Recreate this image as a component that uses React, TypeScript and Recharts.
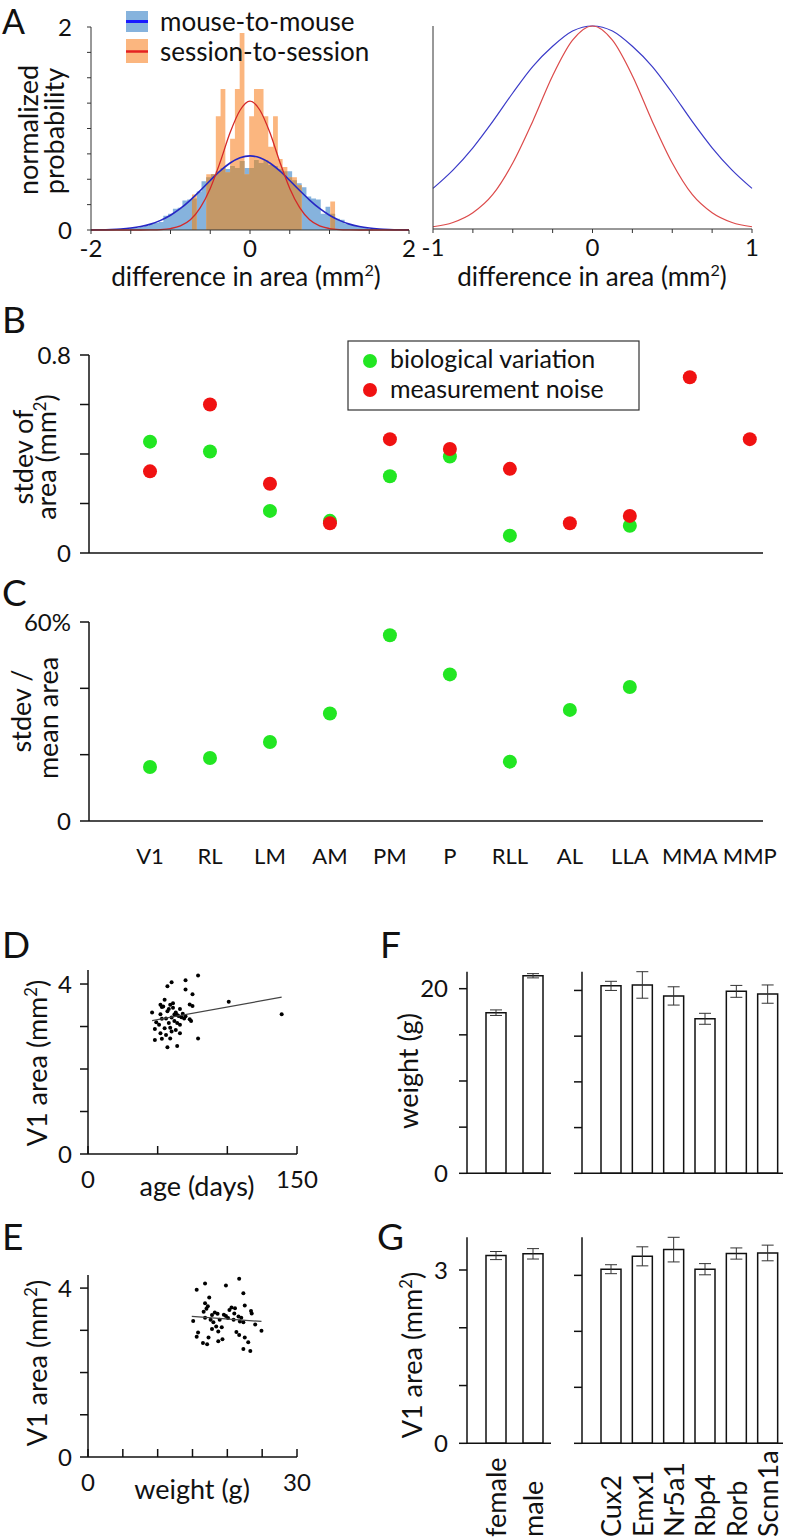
import React from 'react'
import {
  ComposedChart, LineChart, ScatterChart, BarChart,
  Area, Line, Scatter, Bar, ErrorBar, XAxis, YAxis,
} from 'recharts'

const W = 800
const H = 1539
const FONT = 'Lato, "Open Sans", sans-serif'
const INK = '#111'

// ---- A: difference in area histograms + gaussian fits ----
const histBins = [
  -1.54, -1.48, -1.42, -1.36, -1.3, -1.24, -1.18, -1.12, -1.06, -1.0, -0.94, -0.88, -0.82,
  -0.76, -0.7, -0.64, -0.58, -0.52, -0.46, -0.4, -0.34, -0.28, -0.22, -0.16, -0.1, -0.04,
  0.02, 0.08, 0.14, 0.2, 0.26, 0.32, 0.38, 0.44, 0.5, 0.56, 0.62, 0.68, 0.74,
  0.8, 0.86, 0.92, 0.98, 1.04, 1.1, 1.16, 1.22, 1.28, 1.34, 1.4, 1.46, 1.52, 1.58,
]
const mouseHist = [
  0, 0.02, 0.02, 0.03, 0.04, 0.06, 0.07, 0.08, 0.14, 0.16, 0.21, 0.22, 0.29,
  0.3, 0.31, 0.38, 0.48, 0.52, 0.55, 0.58, 0.61, 0.6, 0.63, 0.61, 0.68, 0.61,
  0.61, 0.69, 0.66, 0.69, 0.64, 0.63, 0.6, 0.58, 0.58, 0.49, 0.46, 0.42, 0.33,
  0.31, 0.3, 0.16, 0.23, 0.16, 0.11, 0.1, 0.06, 0.05, 0.04, 0.03, 0.02, 0.01, 0,
]
const sessionHist = [
  null, null, null, null, null, null, null, null, null, null, null, null, null,
  0, 0.35, 0, 0, 0.55, 0.55, 1.12, 1.39, 0.57, 0.9, 1.39, 1.94, 0.55,
  1.12, 1.39, 1.39, 1.12, 0.82, 1.12, 0.7, 0.62, 0.52, 0.52, 0.44, 0, 0,
  0, 0, 0, 0, 0.28, 0, null, null, null, null, null, null, null, null,
]
const fitX = [
  -2, -1.875, -1.75, -1.625, -1.5, -1.375, -1.25, -1.125, -1, -0.875, -0.75, -0.625, -0.5, -0.375, -0.25, -0.125,
  0, 0.125, 0.25, 0.375, 0.5, 0.625, 0.75, 0.875, 1, 1.125, 1.25, 1.375, 1.5, 1.625, 1.75, 1.875, 2,
]
const mouseFit = [
  0.001, 0.002, 0.005, 0.01, 0.019, 0.034, 0.058, 0.095, 0.145, 0.212, 0.295, 0.389, 0.488, 0.582, 0.66, 0.712,
  0.73, 0.712, 0.66, 0.582, 0.488, 0.389, 0.295, 0.212, 0.145, 0.095, 0.058, 0.034, 0.019, 0.01, 0.005, 0.002, 0.001,
]
const sessionFit = [
  0, 0, 0, 0, 0, 0, 0.001, 0.004, 0.014, 0.04, 0.1, 0.22, 0.41, 0.67, 0.96, 1.18,
  1.27, 1.18, 0.96, 0.67, 0.41, 0.22, 0.1, 0.04, 0.014, 0.004, 0.001, 0, 0, 0, 0, 0, 0,
]
const normX = [-1, -0.875, -0.75, -0.625, -0.5, -0.375, -0.25, -0.125, 0, 0.125, 0.25, 0.375, 0.5, 0.625, 0.75, 0.875, 1]
const mouseNorm = [0.2, 0.29, 0.4, 0.53, 0.67, 0.8, 0.9, 0.975, 1, 0.975, 0.9, 0.8, 0.67, 0.53, 0.4, 0.29, 0.2]
const sessionNorm = [0.011, 0.032, 0.08, 0.17, 0.325, 0.53, 0.755, 0.93, 1, 0.93, 0.755, 0.53, 0.325, 0.17, 0.08, 0.032, 0.011]

// ---- B / C: per-area variation ----
const areas = ['V1', 'RL', 'LM', 'AM', 'PM', 'P', 'RLL', 'AL', 'LLA', 'MMA', 'MMP']
const bioStdev = [0.45, 0.41, 0.17, 0.13, 0.31, 0.39, 0.07, null, 0.11, null, null]
const noiseStdev = [0.33, 0.6, 0.28, 0.12, 0.46, 0.42, 0.34, 0.12, 0.15, 0.71, 0.46]
const relStdev = [16.3, 19.0, 23.8, 32.4, 56.0, 44.2, 17.9, 33.5, 40.4, null, null]

// ---- D: V1 area vs age ----
const ageDays = [
  79, 70, 60, 57, 70, 75, 55, 101, 52, 53, 59, 61, 73, 75, 46, 52, 58, 63, 66, 139,
  64, 65, 56, 60, 69, 73, 74, 53, 62, 64, 58, 49, 66, 48, 55, 59, 63, 52, 56, 66,
  79, 48, 53, 59, 57, 64, 61, 54, 67, 70, 57, 62, 68, 51, 60,
]
const ageArea = [
  4.2, 4.09, 4.04, 3.95, 3.87, 3.76, 3.63, 3.58, 3.51, 3.46, 3.51, 3.55, 3.52, 3.48, 3.33, 3.29, 3.41, 3.33, 3.41, 3.29,
  3.27, 3.25, 3.19, 3.21, 3.19, 3.17, 3.13, 3.18, 3.13, 3.08, 3.08, 3.1, 3.04, 2.94, 2.96, 2.97, 2.92, 2.84, 2.8, 2.84,
  2.72, 2.68, 2.71, 2.72, 2.51, 2.54, 3.44, 3.47, 3.22, 3.24, 3.36, 3.28, 3.3, 3.04, 2.88,
]
const ageFitX = [46, 139]
const ageFitY = [3.14, 3.69]

// ---- E: V1 area vs weight ----
const weightG = [
  21.7, 16.8, 19.8, 15.6, 22.3, 17.4, 16.8, 22.5, 17.0, 16.6, 20.6, 21.1, 20.3, 23.4, 23.5, 18.2, 18.6, 17.8, 19.8, 21.6,
  15.1, 16.8, 17.6, 18.0, 18.9, 20.1, 20.9, 21.8, 22.3, 24.0, 24.9, 18.4, 19.2, 17.8, 18.7, 21.3, 21.7, 15.8, 15.6, 17.3,
  19.3, 22.5, 16.5, 17.1, 18.7, 23.0, 22.3, 23.3, 19.5, 21.0, 22.0, 17.2,
]
const weightArea = [
  4.22, 4.11, 4.06, 3.96, 3.88, 3.78, 3.64, 3.59, 3.51, 3.44, 3.54, 3.52, 3.48, 3.46, 3.4, 3.42, 3.39, 3.36, 3.34, 3.33,
  3.22, 3.3, 3.25, 3.19, 3.25, 3.29, 3.25, 3.21, 3.19, 3.14, 2.99, 3.09, 3.07, 3.03, 2.97, 2.96, 2.89, 2.95, 2.85, 2.83,
  2.79, 2.83, 2.7, 2.67, 2.74, 2.72, 2.56, 2.51, 3.37, 3.4, 3.3, 3.57,
]
const weightFitX = [14.9, 24.9]
const weightFitY = [3.33, 3.21]

// ---- F / G: weight and V1 area by sex and Cre line ----
const sexes = ['female', 'male']
const sexWeight = [17.4, 21.4]
const sexWeightErr = [0.3, 0.23]
const sexArea = [3.25, 3.28]
const sexAreaErr = [0.07, 0.09]
const creLines = ['Cux2', 'Emx1', 'Nr5a1', 'Rbp4', 'Rorb', 'Scnn1a']
const creWeight = [20.5, 20.6, 19.4, 16.9, 19.9, 19.6]
const creWeightErr = [0.5, 1.45, 1.0, 0.6, 0.65, 1.0]
const creArea = [3.11, 3.34, 3.46, 3.11, 3.39, 3.4]
const creAreaErr = [0.08, 0.17, 0.22, 0.1, 0.1, 0.14]

// ---------------------------------------------------------------
const aTable = (() => {
  const m = new Map<number, any>()
  const row = (x: number) => {
    const k = Math.round(x * 1000)
    if (!m.has(k)) m.set(k, { x })
    return m.get(k)
  }
  histBins.forEach((x, i) => {
    const r = row(x)
    const s = sessionHist[i]
    r.mouse = mouseHist[i]
    r.session = s
    r.both = s == null ? null : Math.min(s, mouseHist[i])
  })
  fitX.forEach((x, i) => {
    const r = row(x)
    r.mouseFit = mouseFit[i]
    r.sessionFit = sessionFit[i]
  })
  return [...m.values()].sort((a, b) => a.x - b.x)
})()
const normTable = normX.map((x, i) => ({ x, mouse: mouseNorm[i], session: sessionNorm[i] }))

const pts = (xs: number[], ys: (number | null)[]) =>
  xs.map((x, i) => ({ x, y: ys[i] })).filter((p) => p.y != null)
const idx = areas.map((_, i) => i)
const bioPts = pts(idx, bioStdev)
const noisePts = pts(idx, noiseStdev)
const relPts = pts(idx, relStdev)
const agePts = pts(ageDays, ageArea)
const ageFit = pts(ageFitX, ageFitY)
const weightPts = pts(weightG, weightArea)
const weightFit = pts(weightFitX, weightFitY)
const bars = (names: string[], v: number[], err: number[]) => names.map((name, i) => ({ name, v: v[i], err: err[i] }))

// plot rectangle in page pixels -> chart margin
const frame = (l: number, t: number, r: number, b: number, yW: number, xH: number) => ({
  top: t, left: l - yW, right: W - r, bottom: H - b - xH,
})
const only = (keep: Record<string, string>) => (v: number) => keep[String(v)] ?? ''

const tickFont = { fontSize: 24, fill: INK, fontFamily: FONT }
const catFont = { fontSize: 22, fill: INK, fontFamily: FONT }
const axA = { stroke: '#333', strokeWidth: 1 }
const ax = { stroke: INK, strokeWidth: 1.5 }
const layer: React.CSSProperties = { position: 'absolute', left: 0, top: 0 }

const dot = (fill: string, r: number) => (p: any) => <circle cx={p.cx} cy={p.cy} r={r} fill={fill} />
const noShape = () => <g />

// x ticks pointing up into the plot (panels D, E)
const upTick = (labels: Record<string, string>, margin: number) => (p: any) => (
  <g>
    <line x1={p.x} x2={p.x} y1={p.y - margin} y2={p.y - margin - 8} stroke={INK} strokeWidth={1.5} />
    <text x={p.x} y={p.y} dy="0.71em" textAnchor="middle" fontSize={24} fontFamily={FONT} fill={INK}>
      {labels[String(p.payload.value)] ?? ''}
    </text>
  </g>
)
// rotated category labels (panel G)
const rotTick = (p: any) => (
  <text x={p.x} y={1537} transform={`rotate(-90 ${p.x} 1537)`} dominantBaseline="central"
    fontSize={27} fontFamily={FONT} fill={INK}>
    {p.payload.value}
  </text>
)

const Sup2 = ({ size }: { size: number }) => (
  <>
    <tspan fontSize={size * 0.62} dy={-size * 0.38}>2</tspan>
    <tspan dy={size * 0.38}>)</tspan>
  </>
)

function T({ x, y, size = 27, anchor = 'middle', rot = false, children }: any) {
  return (
    <text x={x} y={y} fontSize={size} textAnchor={anchor} fontFamily={FONT} fill={INK}
      transform={rot ? `rotate(-90 ${x} ${y})` : undefined}>
      {children}
    </text>
  )
}

function BarPanel({ data, box, dom, ticks, labels, rotate, pad }: any) {
  return (
    <div style={layer}>
      <BarChart width={W} height={H} data={data} margin={frame(box[0], box[1], box[2], box[3], 50, 10)}>
        <XAxis dataKey="name" height={10} padding={{ left: pad, right: 0 }} axisLine={ax} tickLine={false}
          tickSize={0} interval={0} tick={rotate ? rotTick : false} />
        <YAxis type="number" domain={dom} ticks={ticks} interval={0} width={50} tickSize={8} tickMargin={11}
          axisLine={ax} tickLine={ax} tick={tickFont} tickFormatter={only(labels)} />
        <Bar dataKey="v" barSize={20} fill="#fff" stroke={INK} strokeWidth={1.5} isAnimationActive={false}>
          <ErrorBar dataKey="err" width={6} stroke="#333" strokeWidth={1} direction="y" />
        </Bar>
      </BarChart>
    </div>
  )
}

export default function App() {
  return (
    <div style={{ position: 'absolute', left: 0, top: 0, width: W, height: H, background: '#fff', overflow: 'hidden' }}>
      {/* A left: histograms */}
      <div style={layer}>
        <ComposedChart width={W} height={H} data={aTable} margin={frame(91, 27, 409, 230, 40, 40)}>
          <XAxis type="number" dataKey="x" domain={[-2, 2]} allowDataOverflow ticks={[-2, -1.5, -1, -0.5, 0, 0.5, 1, 1.5, 2]}
            interval={0} height={40} tickSize={4} tickMargin={6} axisLine={axA} tickLine={axA} tick={tickFont}
            tickFormatter={only({ '-2': '-2', '0': '0', '2': '2' })} />
          <YAxis type="number" domain={[0, 2]} ticks={[0, 0.25, 0.5, 0.75, 1, 1.25, 1.5, 1.75, 2]} interval={0} width={40}
            tickSize={4} tickMargin={15} axisLine={axA} tickLine={axA} tick={tickFont} tickFormatter={only({ '0': '0', '2': '2' })} />
          <Area type="step" dataKey="mouse" stroke="none" fill="#86b3dd" fillOpacity={1} connectNulls isAnimationActive={false} />
          <Area type="step" dataKey="session" stroke="none" fill="#fbb67f" fillOpacity={1} connectNulls isAnimationActive={false} />
          <Area type="step" dataKey="both" stroke="none" fill="#c49867" fillOpacity={1} connectNulls isAnimationActive={false} />
          <Line type="monotone" dataKey="mouseFit" stroke="#2626c4" strokeWidth={1.6} dot={false} connectNulls isAnimationActive={false} />
          <Line type="monotone" dataKey="sessionFit" stroke="#d42828" strokeWidth={1.3} dot={false} connectNulls isAnimationActive={false} />
        </ComposedChart>
      </div>

      {/* A right: normalized fits */}
      <div style={layer}>
        <LineChart width={W} height={H} data={normTable} margin={frame(433, 26, 752, 229, 20, 40)}>
          <XAxis type="number" dataKey="x" domain={[-1, 1]} ticks={[-1, -0.75, -0.5, -0.25, 0, 0.25, 0.5, 0.75, 1]}
            interval={0} height={40} tickSize={4} tickMargin={6} axisLine={axA} tickLine={axA} tick={tickFont}
            tickFormatter={only({ '-1': '-1', '0': '0', '1': '1' })} />
          <YAxis type="number" domain={[0, 1]} ticks={[0, 0.2, 0.6, 0.8, 1]} interval={0} width={20} tickSize={4}
            axisLine={axA} tickLine={axA} tick={false} />
          <Line type="monotone" dataKey="mouse" stroke="#3a3ac8" strokeWidth={1.2} dot={false} isAnimationActive={false} />
          <Line type="monotone" dataKey="session" stroke="#dc4a4a" strokeWidth={1.2} dot={false} isAnimationActive={false} />
        </LineChart>
      </div>

      {/* B: stdev of area */}
      <div style={layer}>
        <ScatterChart width={W} height={H} margin={frame(89, 355, 763, 553, 60, 10)}>
          <XAxis type="number" dataKey="x" domain={[-1.017, 10.22]} height={10} axisLine={ax} tickLine={false} tick={false} />
          <YAxis type="number" dataKey="y" domain={[0, 0.8]} ticks={[0, 0.2, 0.4, 0.6, 0.8]} interval={0} width={60}
            tickSize={9} tickMargin={9} axisLine={ax} tickLine={ax} tick={tickFont} tickFormatter={only({ '0': '0', '0.8': '0.8' })} />
          <Scatter data={bioPts} shape={dot('#22e622', 7)} isAnimationActive={false} />
          <Scatter data={noisePts} shape={dot('#f01212', 7)} isAnimationActive={false} />
        </ScatterChart>
      </div>

      {/* C: stdev / mean area */}
      <div style={layer}>
        <ScatterChart width={W} height={H} margin={frame(89, 622, 763, 821, 60, 40)}>
          <XAxis type="number" dataKey="x" domain={[-1.017, 10.22]} ticks={idx} interval={0} height={40} axisLine={ax}
            tickLine={false} tickSize={0} tickMargin={27} tick={catFont} tickFormatter={(i: number) => areas[i] ?? ''} />
          <YAxis type="number" dataKey="y" domain={[0, 60]} ticks={[0, 20, 40, 60]} interval={0} width={60}
            tickSize={9} tickMargin={9} axisLine={ax} tickLine={ax} tick={tickFont} tickFormatter={only({ '0': '0', '60': '60%' })} />
          <Scatter data={relPts} shape={dot('#22e622', 7)} isAnimationActive={false} />
        </ScatterChart>
      </div>

      {/* D: area vs age */}
      <div style={layer}>
        <ScatterChart width={W} height={H} margin={frame(88, 970, 297, 1154, 50, 40)}>
          <XAxis type="number" dataKey="x" domain={[0, 150]} ticks={[0, 50, 100, 150]} interval={0} height={40} axisLine={ax}
            tickLine={false} tickSize={0} tickMargin={17} tick={upTick({ '0': '0', '150': '150' }, 17)} />
          <YAxis type="number" dataKey="y" domain={[0, 4.33]} ticks={[0, 1, 2, 3, 4]} interval={0} width={50}
            tickSize={8} tickMargin={8} axisLine={ax} tickLine={ax} tick={tickFont} tickFormatter={only({ '0': '0', '4': '4' })} />
          <Scatter data={agePts} shape={dot('#000', 2)} isAnimationActive={false} />
          <Scatter data={ageFit} line={{ stroke: '#444', strokeWidth: 1.2 }} shape={noShape} isAnimationActive={false} />
        </ScatterChart>
      </div>

      {/* E: area vs weight */}
      <div style={layer}>
        <ScatterChart width={W} height={H} margin={frame(88, 1275, 297, 1457, 50, 40)}>
          <XAxis type="number" dataKey="x" domain={[0, 30]} ticks={[0, 5, 10, 15, 20, 25, 30]} interval={0} height={40} axisLine={ax}
            tickLine={false} tickSize={0} tickMargin={17} tick={upTick({ '0': '0', '30': '30' }, 17)} />
          <YAxis type="number" dataKey="y" domain={[0, 4.31]} ticks={[0, 1, 2, 3, 4]} interval={0} width={50}
            tickSize={8} tickMargin={8} axisLine={ax} tickLine={ax} tick={tickFont} tickFormatter={only({ '0': '0', '4': '4' })} />
          <Scatter data={weightPts} shape={dot('#000', 2)} isAnimationActive={false} />
          <Scatter data={weightFit} line={{ stroke: '#444', strokeWidth: 1.2 }} shape={noShape} isAnimationActive={false} />
        </ScatterChart>
      </div>

      {/* F / G */}
      <BarPanel data={bars(sexes, sexWeight, sexWeightErr)} box={[467, 971.7, 551, 1173.3]} dom={[0, 21.84]}
        ticks={[0, 5, 10, 15, 20]} labels={{ '0': '0', '20': '20' }} pad={10} />
      <BarPanel data={bars(creLines, creWeight, creWeightErr)} box={[582, 971.7, 783, 1173.3]} dom={[0, 21.84]}
        ticks={[0, 5, 10, 15, 20]} labels={{}} pad={13} />
      <BarPanel data={bars(sexes, sexArea, sexAreaErr)} box={[467, 1237.3, 551, 1443.3]} dom={[0, 3.566]}
        ticks={[0, 1, 2, 3]} labels={{ '0': '0', '3': '3' }} pad={10} rotate />
      <BarPanel data={bars(creLines, creArea, creAreaErr)} box={[582, 1237.3, 783, 1443.3]} dom={[0, 3.566]}
        ticks={[0, 1, 2, 3]} labels={{}} pad={13} rotate />

      {/* titles, panel letters, legends */}
      <svg width={W} height={H} style={layer}>
        <T x={2} y={34} size={34} anchor="start">A</T>
        <T x={2} y={333} size={37} anchor="start">B</T>
        <T x={2} y={606} size={37} anchor="start">C</T>
        <T x={2} y={958} size={37} anchor="start">D</T>
        <T x={2} y={1250} size={37} anchor="start">E</T>
        <T x={380} y={958} size={37} anchor="start">F</T>
        <T x={377} y={1250} size={37} anchor="start">G</T>

        <T x={38} y={130} rot>normalized</T>
        <T x={64} y={131} rot>probability</T>
        <T x={246} y={286} size={26}>difference in area (mm<Sup2 size={26} /></T>
        <T x={592} y={286} size={26}>difference in area (mm<Sup2 size={26} /></T>

        <rect x={126} y={11} width={22} height={21} fill="#86b3dd" />
        <line x1={126} x2={148} y1={21.5} y2={21.5} stroke="#1a1aff" strokeWidth={3} />
        <rect x={126} y={39} width={22} height={24} fill="#fbb67f" />
        <line x1={126} x2={148} y1={51.5} y2={51.5} stroke="#e42222" strokeWidth={2.5} />
        <T x={160} y={31} size={26} anchor="start">mouse-to-mouse</T>
        <T x={160} y={61} size={26} anchor="start">session-to-session</T>

        <T x={33} y={457} rot>stdev of</T>
        <T x={56} y={457} rot>area (mm<Sup2 size={27} /></T>
        <rect x={348} y={341} width={291} height={69} fill="#fff" stroke="#333" strokeWidth={1.2} />
        <circle cx={370} cy={361} r={7} fill="#22e622" />
        <circle cx={370} cy={390} r={7} fill="#f01212" />
        <T x={390} y={368} size={25} anchor="start">biological variation</T>
        <T x={390} y={398} size={25} anchor="start">measurement noise</T>

        <T x={31} y={711} rot>stdev /</T>
        <T x={58} y={718} rot>mean area</T>

        <T x={47} y={1063} rot>V1 area (mm<Sup2 size={27} /></T>
        <T x={197} y={1196}>age (days)</T>
        <T x={47} y={1363} rot>V1 area (mm<Sup2 size={27} /></T>
        <T x={192} y={1499}>weight (g)</T>
        <T x={418} y={1071} rot>weight (g)</T>
        <T x={422} y={1355} rot>V1 area (mm<Sup2 size={27} /></T>
      </svg>
    </div>
  )
}
